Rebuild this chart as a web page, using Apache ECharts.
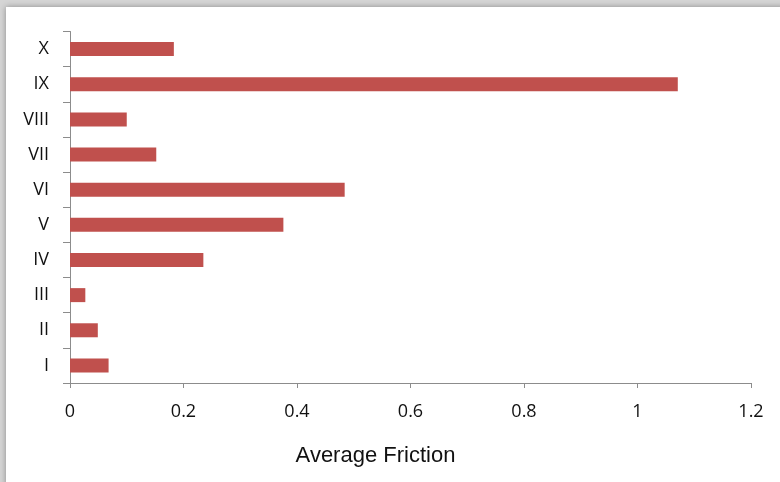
<!DOCTYPE html>
<html>
<head>
<meta charset="utf-8">
<script src="https://cdn.jsdelivr.net/npm/echarts@6/dist/echarts.min.js"></script>
<style>
  html, body { margin: 0; padding: 0; background: #d5d5d5; }
  #chart { width: 780px; height: 482px; }
</style>
</head>
<body>
<div id="chart"></div>
<script>
// Specimen groups, listed bottom to top
const categories = ['I', 'II', 'III', 'IV', 'V', 'VI', 'VII', 'VIII', 'IX', 'X'];
// Mean friction coefficient per group
const frictionValues = [0.068, 0.049, 0.027, 0.235, 0.376, 0.484, 0.152, 0.100, 1.071, 0.183];
const xAxisTitle = 'Average Friction';

const chart = echarts.init(document.getElementById('chart'));
const axisGray = '#8c8c8c';

chart.setOption({
  backgroundColor: '#d5d5d5',
  animation: false,
  graphic: [
    {
      type: 'rect',
      z: -10,
      shape: { x: 6, y: 7, width: 780, height: 480 },
      style: {
        fill: '#ffffff',
        shadowBlur: 6,
        shadowColor: 'rgba(0,0,0,0.35)',
        shadowOffsetX: 0,
        shadowOffsetY: 0
      }
    }
  ],
  grid: { left: 70, right: 29, top: 31.5, bottom: 99, containLabel: false },
  xAxis: {
    type: 'value',
    min: 0,
    max: 1.2,
    interval: 0.2,
    name: xAxisTitle,
    nameLocation: 'middle',
    nameGap: 62,
    nameTextStyle: {
      fontFamily: 'Liberation Sans',
      fontSize: 22,
      color: '#111',
      padding: [0, 70, 0, 0]
    },
    axisLine: { show: true, lineStyle: { color: axisGray, width: 1 } },
    axisTick: { show: true, length: 5, lineStyle: { color: axisGray } },
    splitLine: { show: false },
    axisLabel: {
      margin: 20,
      fontFamily: 'Open Sans',
      fontSize: 18,
      color: '#111',
      formatter: v => String(Math.round(v * 10) / 10)
    }
  },
  yAxis: {
    type: 'category',
    data: categories,
    axisLine: { show: true, lineStyle: { color: axisGray, width: 1 } },
    axisTick: { show: true, length: 7, alignWithLabel: false, lineStyle: { color: axisGray } },
    axisLabel: {
      margin: 21,
      fontFamily: 'Open Sans',
      fontSize: 18,
      color: '#111'
    },
    splitLine: { show: false }
  },
  series: [
    {
      type: 'bar',
      data: frictionValues,
      barWidth: 14,
      itemStyle: { color: '#C0504D' }
    }
  ]
});
</script>
</body>
</html>
